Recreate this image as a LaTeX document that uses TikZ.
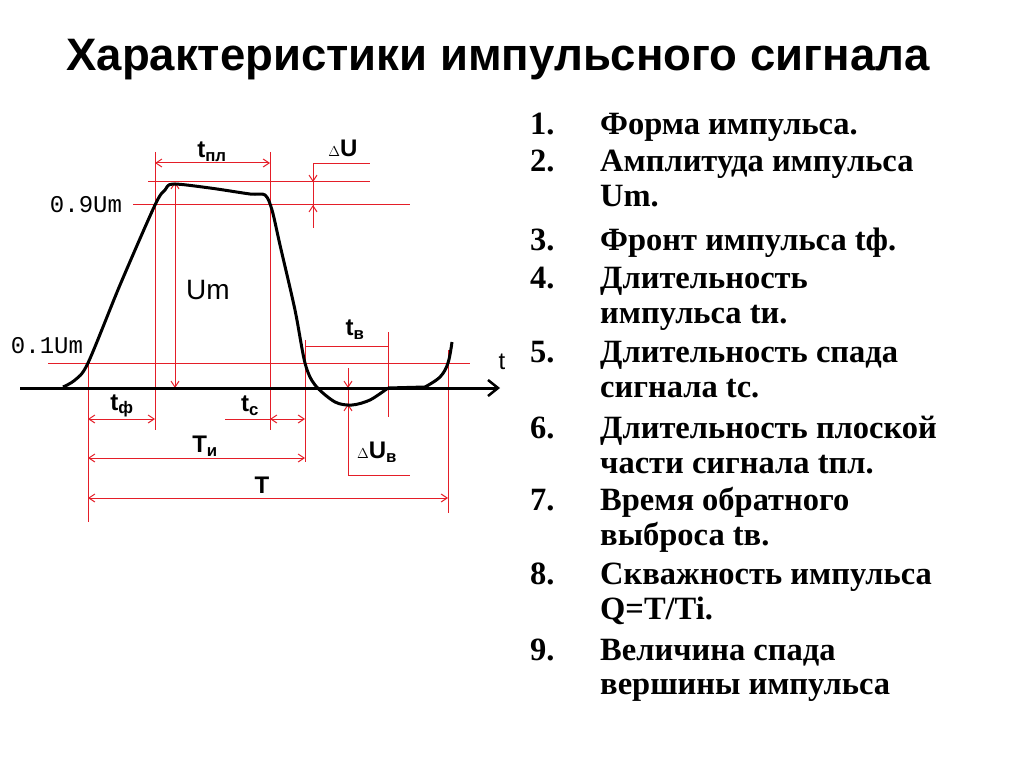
\documentclass[tikz,border=0pt]{standalone}
\usepackage{fontspec}
\setmainfont{Liberation Serif}
\setsansfont{Liberation Sans}
\setmonofont{Liberation Mono}
\usetikzlibrary{arrows.meta}
\definecolor{rd}{RGB}{228,30,40}
\tikzset{
  rl/.style={draw=rd,line width=1pt},
  da/.style={rl,{Straight Barb[length=6pt,width=8pt]}-{Straight Barb[length=6pt,width=8pt]}},
  ea/.style={rl,-{Straight Barb[length=6pt,width=8pt]}},
  lb/.style={font=\sffamily\bfseries\fontsize{24}{26}\selectfont},
  mono/.style={font=\ttfamily\fontsize{24}{26}\selectfont},
  li/.style={anchor=base west,font=\bfseries\fontsize{32.5}{35}\selectfont,inner sep=0pt},
}
\begin{document}
\begin{tikzpicture}[x=1pt,y=-1pt]
\useasboundingbox (0,0) rectangle (1024,767);
\node[font=\sffamily\bfseries\fontsize{45.5}{48}\selectfont] (title) at (498,60) {Характеристики импульсного сигнала};
% red lines
\draw[rl] (48,363) -- (470,363);
\draw[rl] (133,205) -- (410,205);
\draw[rl] (148,182) -- (370,182);
\draw[rl] (313,164) -- (370,164);
\draw[rl] (313,164) -- (313,228);
\draw[ea] (313,166) -- (313,182);
\draw[ea] (313,225) -- (313,205);
\draw[rl] (88,363) -- (88,522);
\draw[rl] (155,152) -- (155,430);
\draw[rl] (270,152) -- (270,430);
\draw[rl] (305,340) -- (305,462);
\draw[rl] (388,332) -- (388,417);
\draw[rl] (448,350) -- (448,513);
\draw[rl] (348,368) -- (348,475) -- (410,475);
\draw[ea] (348,370) -- (348,388);
\draw[ea] (348,420) -- (348,404);
\draw[da] (175,182) -- (175,388);
\draw[da] (155,163) -- (270,163);
\draw[rl] (305,346) -- (388,346);
\draw[da] (88,419) -- (155,419);
\draw[rl] (225,419) -- (270,419);
\draw[da] (270,419) -- (305,419);
\draw[da] (88,458) -- (305,458);
\draw[da] (88,498) -- (448,498);
% axis
\draw[line width=3pt,-{Straight Barb[length=10pt,width=16pt,line width=2.5pt]}] (20,388) -- (500,388);
% pulse
\draw[line width=3pt,line join=round] plot[smooth,tension=0.5] coordinates {(63,387) (75,380) (88,363) (120,285) (155,205) (165,190) (173,184) (210,188) (250,194) (265,195) (272,210) (280,245) (295,310) (305,363) (315,385) (335,402) (352,405) (370,400) (388,388)};
\draw[line width=3pt] (388,388) -- (425,387);
\draw[line width=3pt] plot[smooth,tension=0.6] coordinates {(425,387) (440,377) (448,363) (452,342)};
% labels
\node[lb] (tpl) at (212,152) {t\textsubscript{пл}};
\node[lb] (dU) at (343,148) {\fontsize{14}{14}\selectfont$\Delta$\fontsize{24}{26}\selectfont U};
\node[mono] (u9) at (86,205) {0.9Um};
\node[lb,font=\sffamily\fontsize{28}{30}\selectfont] (um) at (208,290) {Um};
\node[mono] (u1) at (47,346) {0.1Um};
\node[lb] (tv) at (355,330) {t\textsubscript{в}};
\node[lb,font=\sffamily\fontsize{24}{26}\selectfont] (t) at (502,362) {t};
\node[lb] (tf) at (122,406) {t\textsubscript{ф}};
\node[lb] (tc) at (250,406) {t\textsubscript{с}};
\node[lb] (ti) at (205,446) {T\textsubscript{и}};
\node[lb] (duv) at (377,452) {\fontsize{14}{14}\selectfont$\Delta$\fontsize{24}{26}\selectfont U\textsubscript{в}};
\node[lb] (T) at (262,485) {T};
% list
\foreach \n/\y in {1/135,2/172,3/250,4/288,5/362,6/438,7/510,8/584,9/660}
  \node[li] (n\n) at (530,\y) {\n.};
\node[li] (i1) at (600,135) {Форма импульса.};
\node[li] (i2a) at (600,172) {Амплитуда импульса};
\node[li] (i2b) at (600,207) {Um.};
\node[li] (i3) at (600,250) {Фронт импульса tф.};
\node[li] (i4a) at (600,288) {Длительность};
\node[li] (i4b) at (600,323) {импульса tи.};
\node[li] (i5a) at (600,362) {Длительность спада};
\node[li] (i5b) at (600,397) {сигнала tс.};
\node[li] (i6a) at (600,438) {Длительность плоской};
\node[li] (i6b) at (600,473) {части сигнала tпл.};
\node[li] (i7a) at (600,510) {Время обратного};
\node[li] (i7b) at (600,545) {выброса tв.};
\node[li] (i8a) at (600,584) {Скважность импульса};
\node[li] (i8b) at (600,619) {Q=T/Ti.};
\node[li] (i9a) at (600,660) {Величина спада};
\node[li] (i9b) at (600,694) {вершины импульса};
\end{tikzpicture}
\end{document}
